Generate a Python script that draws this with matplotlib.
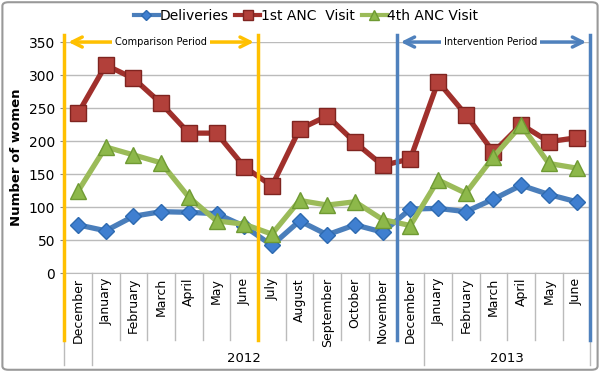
import matplotlib.pyplot as plt
import matplotlib.transforms as mtransforms
from matplotlib.patches import FancyBboxPatch

months = ["December", "January", "February", "March", "April", "May", "June",
          "July", "August", "September", "October", "November",
          "December", "January", "February", "March", "April", "May", "June"]
deliveries = [73, 64, 86, 93, 92, 90, 71, 42, 79, 58, 73, 62, 97, 98, 93, 112, 133, 119, 108]
anc1 = [242, 315, 295, 257, 212, 212, 161, 132, 218, 238, 198, 163, 173, 290, 240, 183, 225, 199, 205]
anc4 = [124, 191, 179, 167, 115, 79, 74, 59, 110, 103, 108, 81, 72, 141, 121, 176, 224, 166, 159]
years = ["2012", "2013"]

fig = plt.figure(figsize=(6, 3.72), dpi=100)
ax = fig.add_axes([0.107, 0.266, 0.877, 0.621])
x = list(range(len(months)))

ax.plot(x, deliveries, color='#4A7EBB', lw=3.8, marker='D', ms=8,
        mfc='#3F7FD0', mec='#2E6AB0', label='Deliveries', zorder=3)
ax.plot(x, anc1, color='#A0302C', lw=3.8, marker='s', ms=11,
        mfc='#B2403A', mec='#7F2420', label='1st ANC  Visit', zorder=3)
ax.plot(x, anc4, color='#9BBB59', lw=3.8, marker='^', ms=11,
        mfc='#8DB84A', mec='#6F9A33', label='4th ANC Visit', zorder=3)

ax.set_xlim(-0.5, len(months) - 0.5)
ax.set_ylim(0, 350)
ax.set_yticks(range(0, 351, 50))
ax.tick_params(axis='y', labelsize=10, length=3, color='#888888')
ax.tick_params(axis='x', length=0)
ax.set_xticks(x)
ax.set_xticklabels(months, rotation=90, fontsize=9)
ax.grid(axis='y', color='#BBBBBB', lw=1)
ax.set_axisbelow(True)
for s in ['top', 'right']:
    ax.spines[s].set_visible(False)
ax.spines['left'].set_color('#888888')
ax.spines['bottom'].set_color('#BBBBBB')
ax.set_ylabel("Number of women", fontsize=9.5, fontweight='bold')

# category separators and year groups
trans = mtransforms.blended_transform_factory(ax.transData, ax.transAxes)
for i in range(len(months) + 1):
    b = i - 0.5
    low = -0.40 if i in (0, 1, 13, 19) else -0.29
    ax.plot([b, b], [0, low], transform=trans, color='#BBBBBB', lw=1, clip_on=False)
ax.text(6.0, -0.37, years[0], transform=trans, ha='center', va='center', fontsize=9.5)
ax.text(15.5, -0.37, years[1], transform=trans, ha='center', va='center', fontsize=9.5)

# period markers
for b, c in [(-0.5, '#FFC000'), (6.5, '#FFC000'), (11.5, '#4F81BD'), (18.5, '#4F81BD')]:
    ax.plot([b, b], [1.03, -0.29], transform=trans, color=c, lw=2.5, clip_on=False, zorder=4)
ax.annotate('', xy=(-0.45, 1.0), xytext=(6.45, 1.0), xycoords=trans, textcoords=trans,
            arrowprops=dict(arrowstyle='<->', color='#FFC000', lw=2.5, mutation_scale=18),
            annotation_clip=False)
ax.text(3.0, 1.0, "Comparison Period", transform=trans, ha='center', va='center', fontsize=7,
        bbox=dict(facecolor='white', edgecolor='none', pad=2), zorder=5)
ax.annotate('', xy=(11.55, 1.0), xytext=(18.45, 1.0), xycoords=trans, textcoords=trans,
            arrowprops=dict(arrowstyle='<->', color='#4F81BD', lw=2.5, mutation_scale=18),
            annotation_clip=False)
ax.text(14.9, 1.0, "Intervention Period", transform=trans, ha='center', va='center', fontsize=7,
        bbox=dict(facecolor='white', edgecolor='none', pad=2), zorder=5)

leg = fig.legend(loc='center', bbox_to_anchor=(0.51, 0.958), ncol=3, frameon=False,
                 fontsize=10, handlelength=1.8, columnspacing=0.5, handletextpad=0.05,
                 markerscale=0.6)
for h in leg.get_lines():
    h.set_linewidth(3)

fig.patches.append(FancyBboxPatch((0.004, 0.006), 0.992, 0.988, boxstyle='round,pad=0,rounding_size=0.01',
                                  transform=fig.transFigure, fill=False, ec='#999999', lw=1.5))

fig.savefig("out.png", dpi=100)
